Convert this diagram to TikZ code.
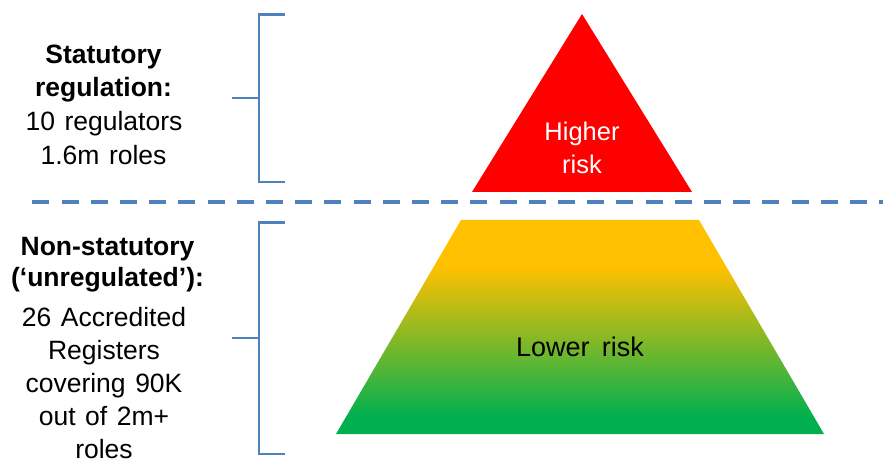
\documentclass[tikz,border=0pt]{standalone}
\usepackage{fontspec}
\setmainfont{Liberation Sans}
\definecolor{bracketblue}{HTML}{4F81BD}
\definecolor{riskred}{HTML}{FF0000}
\definecolor{riskyellow}{HTML}{FFC000}
\definecolor{riskgreen}{HTML}{00B050}
\pgfdeclareverticalshading{riskgrad}{100bp}{color(0bp)=(riskgreen); color(29bp)=(riskgreen); color(64bp)=(riskyellow); color(100bp)=(riskyellow)}
\newcommand{\widespaces}{\spaceskip=0.36em\relax}
\tikzset{
  bracketline/.style={draw=bracketblue, line width=2.4pt},
  divider/.style={draw=bracketblue, line width=3.6pt, dash pattern=on 17pt off 12.2pt},
  sidetext/.style={anchor=base, inner sep=0pt, font=\fontsize{26.5}{32}\selectfont\widespaces},
  sidebold/.style={anchor=base, inner sep=0pt, font=\fontsize{26.5}{32}\selectfont\bfseries},
  hightext/.style={anchor=base, inner sep=0pt, text=white, font=\fontsize{25.5}{30}\selectfont},
  lowtext/.style={anchor=base, inner sep=0pt, text=black, font=\fontsize{27}{32}\selectfont}
}
\begin{document}
\begin{tikzpicture}[x=1pt, y=-1pt]
\useasboundingbox (0,0) rectangle (883,462);
% pyramid
\fill[riskred] (582,14) coordinate (apex) -- (692,192) coordinate (hbr) -- (472,192) coordinate (hbl) -- cycle;
\shade[shading=riskgrad] (461,220) coordinate (ltl) -- (699,220) coordinate (ltr) -- (824,434) coordinate (lbr) -- (336,434) coordinate (lbl) -- cycle;
% divider
\coordinate (dl) at (32.3,202);
\coordinate (dr) at (883,202);
\draw[divider] (dl) -- (dr);
% upper bracket
\coordinate (b1t) at (284.5,14.5);
\coordinate (b1b) at (284.5,182);
\coordinate (b1m) at (232,98.25);
\draw[bracketline] (b1t) -- (258.8,14.5) -- (258.8,182) -- (b1b);
\draw[bracketline] (b1m) -- (258.8,98.25);
% lower bracket
\coordinate (b2t) at (285,222.7);
\coordinate (b2b) at (285,453.8);
\coordinate (b2m) at (232,338.25);
\draw[bracketline] (b2t) -- (259,222.7) -- (259,453.8) -- (b2b);
\draw[bracketline] (b2m) -- (259,338.25);
% left texts, upper block
\node[sidebold] (s1) at (103.5,63.5) {Statutory};
\node[sidebold] (s2) at (103.5,97) {regulation:};
\node[sidetext] (s3) at (104,131) {10 regulators};
\node[sidetext] (s4) at (103.5,165) {1.6m roles};
% left texts, lower block
\node[sidebold] (n1) at (107.5,255) {Non-statutory};
\node[sidebold] (n2) at (107.5,286.7) {(‘unregulated’):};
\node[sidetext] (n3) at (104,326.7) {26 Accredited};
\node[sidetext] (n4) at (104,359.3) {Registers};
\node[sidetext] (n5) at (104,392.5) {covering 90K};
\node[sidetext] (n6) at (104,425.5) {out of 2m+};
\node[sidetext, text depth=0pt] (n7) at (104,458) {roles};
% pyramid labels
\node[hightext] (h1) at (582,140.7) {Higher};
\node[hightext] (h2) at (582,173.3) {risk};
\node[lowtext] (low) at (580,356) {Lower\hspace{0.45em}risk};
\end{tikzpicture}
\end{document}
